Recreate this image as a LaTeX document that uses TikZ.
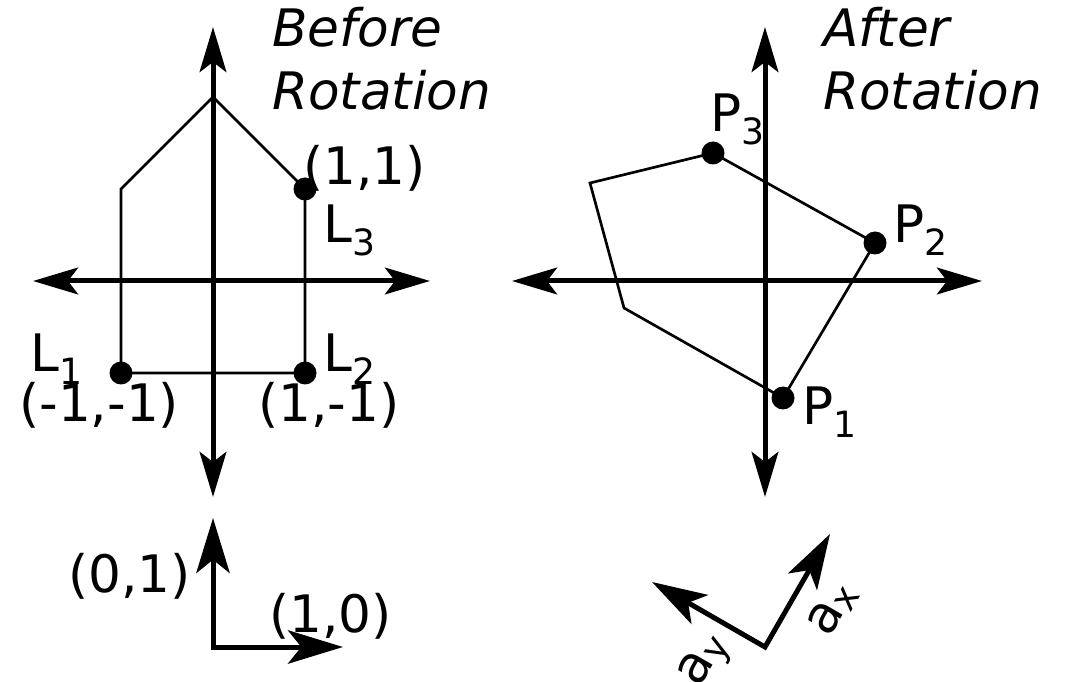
\documentclass[tikz,border=0pt]{standalone}
\usepackage{fontspec}
\setmainfont{DejaVu Sans}
\usetikzlibrary{arrows.meta}

\begin{document}
\begin{tikzpicture}[
    x=0.6pt, y=0.6pt,
    every node/.style={font=\fontsize{31}{37.8}\selectfont},
    axis/.style={line width=3pt,
      {Stealth[length=27pt,width=16pt,inset=6pt]}-{Stealth[length=27pt,width=16pt,inset=6pt]}},
    vec/.style={line width=3pt,line join=miter,
      {Stealth[length=33pt,width=20pt,inset=8pt]}-{Stealth[length=33pt,width=20pt,inset=8pt]}},
    outline/.style={line width=1.6pt},
    dot/.style={circle,fill,inner sep=0pt,minimum size=13.8pt},
    lbl/.style={inner sep=0pt,anchor=base west},
    title/.style={lbl,font=\fontsize{31}{37.8}\selectfont\itshape,align=left}
  ]
  \useasboundingbox (0,0) rectangle (1066,681);

  % before rotation
  \coordinate (bN) at (213,654);
  \coordinate (bS) at (213,184);
  \coordinate (bW) at (33,400);
  \coordinate (bE) at (430,400);
  \draw[axis] (bS) -- (bN);
  \draw[axis] (bW) -- (bE);

  \node[dot] (l1) at (121,308) {};
  \node[dot] (l2) at (305,308) {};
  \node[dot] (l3) at (305,492) {};
  \coordinate (htop) at (213,584);
  \coordinate (hleft) at (121,492);
  \draw[outline] (l1.center) -- (l2.center) -- (l3.center) -- (htop) -- (hleft) -- cycle;

  \node[title] (before) at (272,571) {Before\\Rotation};
  \node[lbl] (l3xy) at (303,496) {(1,1)};
  \node[lbl] (l3txt) at (323,438) {L\textsubscript{3}};
  \node[lbl] (l1txt) at (30,309) {L\textsubscript{1}};
  \node[lbl] (l1xy) at (19,259) {(-1,-1)};
  \node[lbl] (l2txt) at (323,309) {L\textsubscript{2}};
  \node[lbl] (l2xy) at (258,259) {(1,-1)};

  % after rotation
  \coordinate (aN) at (765,654);
  \coordinate (aS) at (765,184);
  \coordinate (aW) at (512,400);
  \coordinate (aE) at (982,400);
  \draw[axis] (aS) -- (aN);
  \draw[axis] (aW) -- (aE);

  \node[dot] (p1) at (783,283) {};
  \node[dot] (p2) at (875,438) {};
  \node[dot] (p3) at (713,528) {};
  \coordinate (rtop) at (590,498);
  \coordinate (rleft) at (624,373);
  \draw[outline] (p1.center) -- (p2.center) -- (p3.center) -- (rtop) -- (rleft) -- cycle;

  \node[title] (after) at (823,571) {After\\Rotation};
  \node[lbl] (p3txt) at (710,549) {P\textsubscript{3}};
  \node[lbl] (p2txt) at (893,438) {P\textsubscript{2}};
  \node[lbl] (p1txt) at (802,256) {P\textsubscript{1}};

  % unit vectors
  \coordinate (o1) at (213,34);
  \coordinate (ex) at (343,34);
  \coordinate (ey) at (213,163);
  \draw[vec] (ey) -- (o1) -- (ex);
  \node[lbl] (eytxt) at (68,88) {(0,1)};
  \node[lbl] (extxt) at (269,49) {(1,0)};

  \coordinate (o2) at (765,34);
  \coordinate (ax) at (830,147);
  \coordinate (ay) at (652,99);
  \draw[vec] (ay) -- (o2) -- (ax);
  \node[rotate=60] (axtxt) at (833,72) {a\textsubscript{x}};
  \node[rotate=60] (aytxt) at (706,20) {a\textsubscript{y}};
\end{tikzpicture}
\end{document}
